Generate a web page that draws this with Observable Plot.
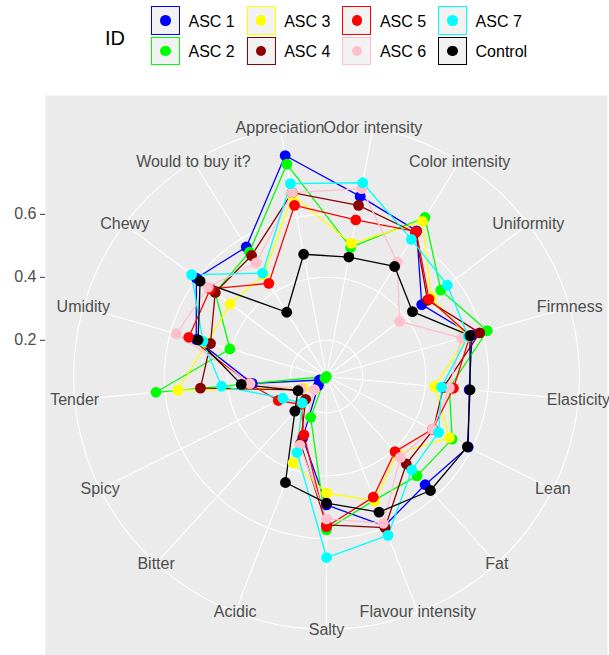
<!DOCTYPE html>
<html><head><meta charset="utf-8">
<script src="https://cdn.jsdelivr.net/npm/d3@7"></script>
<script src="https://cdn.jsdelivr.net/npm/@observablehq/plot@0.6"></script>
<style>
html,body{margin:0;padding:0;background:#fff;overflow:hidden;width:609px;height:655px}
body{font-family:"Liberation Sans",Arial,sans-serif}
#legend{position:relative;width:609px;height:70px}
#legend .title{position:absolute;left:105px;top:26px;font-size:20px;line-height:24px;color:#000}
#legend .keys{position:absolute;left:151px;top:6px;display:grid;grid-template-rows:28.5px 28.5px;row-gap:2.2px;grid-auto-flow:column;grid-auto-columns:95.7px}
.item{display:flex;align-items:center}
.key{box-sizing:border-box;width:29px;height:28.5px;border:1.6px solid;background:#F2F2F2;display:flex;align-items:center;justify-content:center;flex:none}
.dot{width:10.5px;height:10.5px;border-radius:50%}
.lab{margin-left:8.5px;font-size:16px;line-height:16px;padding-top:3px;color:#000;white-space:nowrap}
</style></head>
<body>
<div id="legend"></div>
<div id="chart"></div>
<script>
const categories = ["Odor intensity","Color intensity","Uniformity","Firmness","Elasticity","Lean","Fat","Flavour intensity","Salty","Acidic","Bitter","Spicy","Tender","Umidity","Chewy","Would to buy it?","Appreciation"];
const ids = ["ASC 1","ASC 2","ASC 3","ASC 4","ASC 5","ASC 6","ASC 7","Control"];
const colors = ["#0000FF","#00FF00","#FFFF00","#8B0000","#FF0000","#FFC0CB","#00FFFF","#000000"];
const asc1 = [0.667,0.629,0.464,0.566,0.540,0.588,0.550,0.594,0.493,0.294,0.123,0.110,0.322,0.515,0.603,0.569,0.799];
const asc2 = [0.502,0.679,0.540,0.616,0.477,0.531,0.512,0.506,0.572,0.224,0.092,0.085,0.629,0.404,0.528,0.550,0.771];
const asc3 = [0.515,0.664,0.502,0.550,0.430,0.521,0.417,0.509,0.455,0.379,0.190,0.167,0.559,0.480,0.468,0.464,0.670];
const asc4 = [0.638,0.622,0.487,0.591,0.458,0.464,0.461,0.600,0.556,0.313,0.183,0.180,0.487,0.468,0.528,0.537,0.679];
const asc5 = [0.591,0.626,0.493,0.559,0.490,0.461,0.408,0.496,0.562,0.284,0.205,0.256,0.332,0.540,0.547,0.433,0.638];
const asc6 = [0.692,0.512,0.376,0.531,0.477,0.461,0.433,0.585,0.537,0.319,0.142,0.174,0.329,0.581,0.556,0.509,0.679];
const asc7 = [0.711,0.597,0.566,0.553,0.452,0.483,0.487,0.626,0.660,0.344,0.199,0.240,0.420,0.493,0.622,0.471,0.708];
const control = [0.471,0.496,0.427,0.559,0.543,0.585,0.575,0.547,0.487,0.446,0.234,0.186,0.357,0.509,0.588,0.325,0.480];
const rBreaks = [0.2,0.4,0.6];

const seriesValues = [asc1,asc2,asc3,asc4,asc5,asc6,asc7,control];
const rows = [];
ids.forEach((id, s) => seriesValues[s].forEach((v, i) => rows.push({id, category: categories[i], i, value: v})));
const [rmin, rmax] = d3.extent(rows, d => d.value);
const n = categories.length;
const theta = i => (i + 0.5) / n * 2 * Math.PI;
const rad = v => 0.4 * (v - rmin) / (rmax - rmin);
const px = d => rad(d.value) * Math.sin(theta(d.i));
const py = d => rad(d.value) * Math.cos(theta(d.i));

const ringRadii = [...rBreaks.filter(b => b >= rmin && b <= rmax).map(rad), 0.45];
const fine = d3.range(100).map(k => k / 100 * 2 * Math.PI);
const ringPts = ringRadii.flatMap(r => fine.map(t => ({r, t})));

// legend
const leg = d3.select("#legend");
leg.append("div").attr("class","title").text("ID");
const keys = leg.append("div").attr("class","keys");
ids.forEach((id,k) => {
  const it = keys.append("div").attr("class","item");
  const key = it.append("div").attr("class","key").style("border-color", colors[k]);
  key.append("div").attr("class","dot").style("background", colors[k]);
  it.append("div").attr("class","lab").text(id);
});

const chart = Plot.plot({
  width: 609, height: 587,
  marginLeft: 45, marginRight: 2, marginTop: 25, marginBottom: 0,
  x: {domain: [-0.5, 0.5], axis: null},
  y: {domain: [-0.5, 0.5], axis: null},
  color: {domain: ids, range: colors},
  style: {fontFamily: "Liberation Sans, Arial, sans-serif", background: "transparent", overflow: "visible"},
  marks: [
    Plot.frame({fill: "#EBEBEB", stroke: "none"}),
    Plot.line(ringPts, {x: d => d.r * Math.sin(d.t), y: d => d.r * Math.cos(d.t), z: "r", curve: "linear-closed", stroke: "white", strokeWidth: 1.1}),
    Plot.link(categories, {x1: 0, y1: 0, x2: (d, i) => 0.45 * Math.sin(theta(i)), y2: (d, i) => 0.45 * Math.cos(theta(i)), stroke: "white", strokeWidth: 1.1}),
    Plot.text(categories, {x: (d, i) => 0.45 * Math.sin(theta(i)), y: (d, i) => 0.45 * Math.cos(theta(i)), text: d => d, fontSize: 16, fill: "#4D4D4D"}),
    Plot.axisY(rBreaks.filter(b => b >= rmin && b <= rmax).map(rad), {anchor: "left", tickSize: 5, tickPadding: 4, fontSize: 16, stroke: "#333333", fill: "#4D4D4D", label: null, tickFormat: d => d3.format(".1f")(rmin + d / 0.4 * (rmax - rmin))}),
    Plot.line(rows, {x: px, y: py, z: "id", stroke: "id", curve: "linear-closed", strokeWidth: 1.3}),
    Plot.dot(rows, {x: px, y: py, fill: "id", r: 5.4})
  ]
});
document.getElementById("chart").appendChild(chart);
</script>
</body></html>
